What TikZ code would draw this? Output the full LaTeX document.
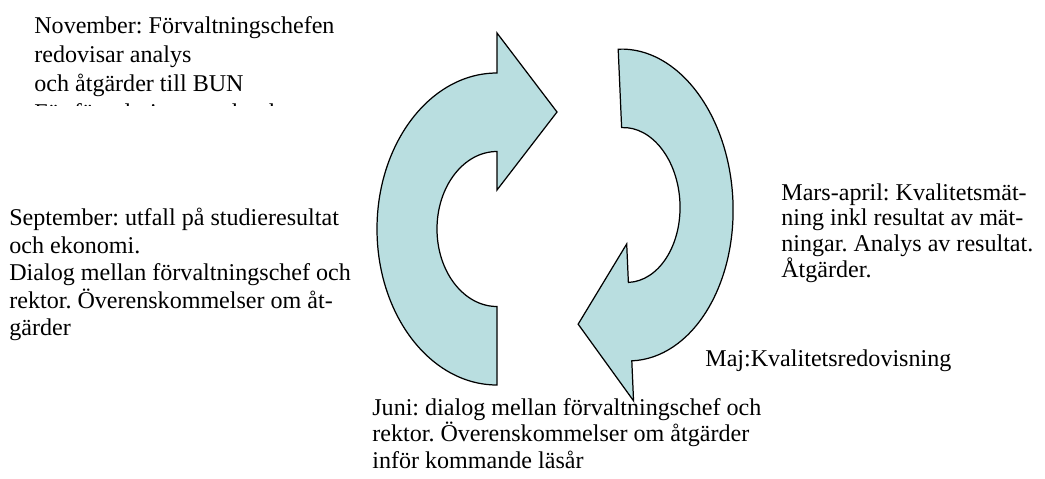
\documentclass[tikz,border=0pt]{standalone}
\usepackage{fontspec}
\setmainfont{Liberation Serif}
\frenchspacing
\usetikzlibrary{positioning}
\definecolor{cycleblue}{RGB}{185,222,224}
\tikzset{
  cyclearrow/.style={fill=cycleblue, draw=black, line width=0.7pt, line join=miter},
  phasetext/.style={anchor=base west, align=left, inner sep=0pt, font=\fontsize{13.7}{15.7}\selectfont},
}

\begin{document}
\begin{tikzpicture}[x=0.02cm, y=0.02cm]
  \useasboundingbox (0,0) rectangle (1045,478);

  % left arrow, bends right at the top
  \begin{scope}[shift={(497,249)}]
    \draw[cyclearrow] (0,-156) arc[start angle=270, end angle=90, x radius=120, y radius=156]
      -- (0,196) -- (60,117) -- (0,39) -- (0,77.5)
      arc[start angle=90, end angle=270, x radius=60, y radius=77.5] -- cycle;
  \end{scope}
  % right arrow, bends left at the bottom
  \begin{scope}[shift={(625,273)}, rotate=182.5]
    \draw[cyclearrow] (0,-156) arc[start angle=270, end angle=90, x radius=108, y radius=156]
      -- (0,196) -- (52,117) -- (0,39) -- (0,77.5)
      arc[start angle=90, end angle=270, x radius=55, y radius=77.5] -- cycle;
  \end{scope}

  % texts (base = last line)
  \begin{scope}
    \clip (0,373) rectangle (400,478);
    \node[phasetext, font=\fontsize{13.7}{16.4}\selectfont] (november) at (34,358)
      {November: Förvaltningschefen\\redovisar analys\\och åtgärder till BUN\\För förvaltningen och rektor};
  \end{scope}
  \node[phasetext] (september) at (9,142.2)
    {September: utfall på studieresultat\\och ekonomi.\\Dialog mellan förvaltningschef och\\rektor. Överenskommelser om åt-\\gärder};
  \node[phasetext, font=\fontsize{13.7}{14.6}\selectfont] (marsapril) at (781,201)
    {Mars-april: Kvalitetsmät-\\ning inkl resultat av mät-\\ningar. Analys av resultat.\\Åtgärder.};
  \node[phasetext] (maj) at (705,111.3) {Maj:Kvalitetsredovisning};
  \node[phasetext, font=\fontsize{13.7}{15.1}\selectfont] (juni) at (372,9.6)
    {Juni: dialog mellan förvaltningschef och\\rektor. Överenskommelser om åtgärder\\inför kommande läsår};
\end{tikzpicture}
\end{document}
